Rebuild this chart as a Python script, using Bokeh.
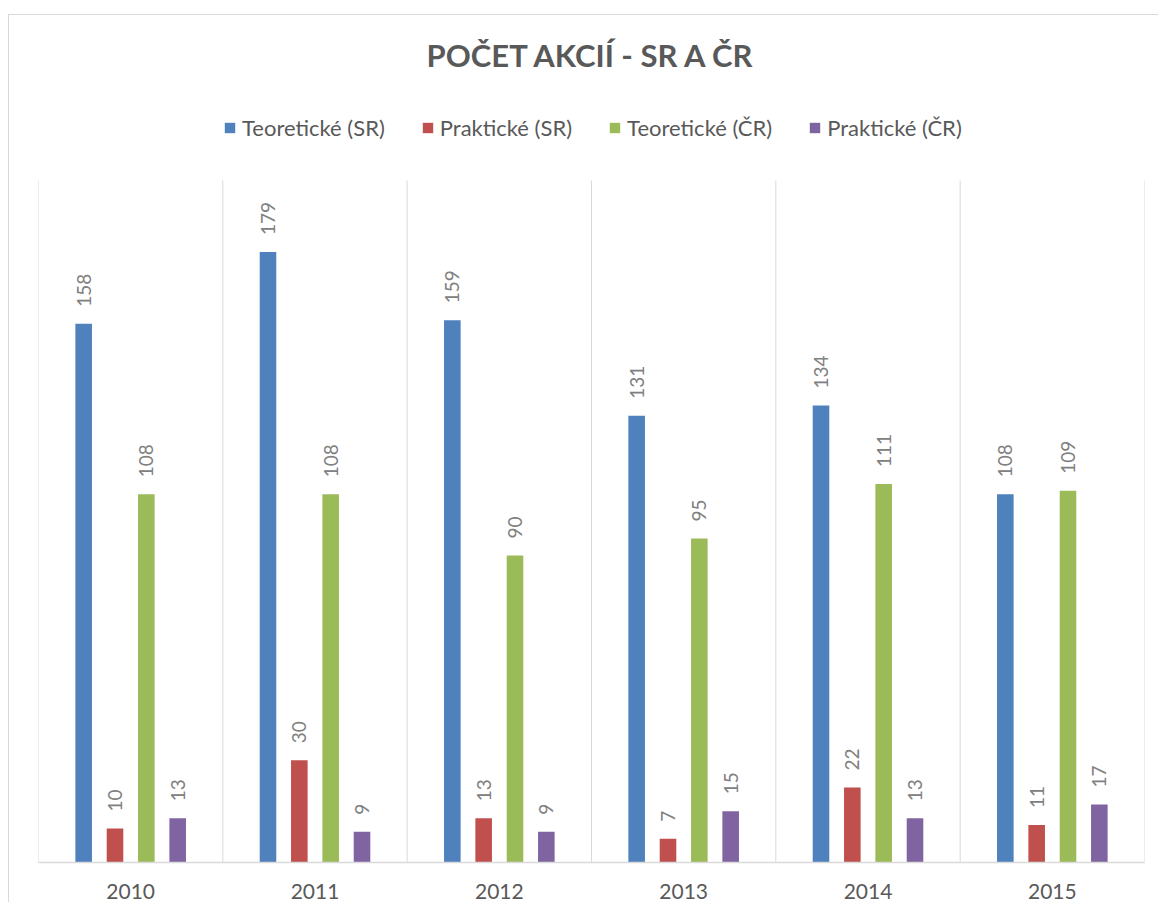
import math
from bokeh.plotting import figure
from bokeh.models import (ColumnDataSource, FactorRange, Range1d, Legend,
                          LegendItem, Label)
from bokeh.transform import dodge
from bokeh.core.properties import value
from bokeh.embed import file_html
from bokeh.resources import INLINE

# ---- data ----
years = ["2010", "2011", "2012", "2013", "2014", "2015"]
series_names = ["Teoretické (SR)", "Praktické (SR)", "Teoretické (ČR)", "Praktické (ČR)"]
teo_sr = [158, 179, 159, 131, 134, 108]
prak_sr = [10, 30, 13, 7, 22, 11]
teo_cr = [108, 108, 90, 95, 111, 109]
prak_cr = [13, 9, 9, 15, 13, 17]
title_text = "POČET AKCIÍ - SR A ČR"
y_max = 200  # value axis maximum (hidden axis)

series_values = [teo_sr, prak_sr, teo_cr, prak_cr]
colors = ["#4f81bd", "#c0504d", "#9bbb59", "#8064a2"]
offsets = [-0.255, -0.085, 0.085, 0.255]
bar_width = 0.09

FONT = "Lato"
W, H = 1150, 888
ML, MR, MT, MB = 29, 15, 0, 41
FW, FH = W - ML - MR, H - MT - MB
PLOT_PX = 682          # pixel height of the 0..y_max value area
y_top = y_max * FH / PLOT_PX   # frame extends above value area to host title & legend

p = figure(
    x_range=FactorRange(factors=years, range_padding=0),
    y_range=Range1d(0, y_top),
    width=W, height=H,
    output_backend="svg", toolbar_location=None,
    min_border_left=ML, min_border_right=MR, min_border_top=MT, min_border_bottom=MB,
    styles={"margin-top": "14px", "margin-left": "8px",
            "border-left": "1px solid #d9d9d9", "border-top": "1px solid #d9d9d9"},
)

p.outline_line_color = None
p.xgrid.grid_line_color = None
p.ygrid.grid_line_color = None
p.yaxis.visible = False

ax = p.xaxis[0]
ax.axis_line_color = "#d9d9d9"
ax.axis_line_width = 1.5
ax.major_tick_line_color = None
ax.minor_tick_line_color = None
ax.major_tick_out = 0
ax.major_tick_in = 0
ax.major_label_text_font = FONT
ax.major_label_text_font_size = "21px"
ax.major_label_text_color = "#595959"
ax.major_label_standoff = 21

# category separators (vertical gridlines between categories, over value area only)
bounds = list(range(len(years) + 1))
p.segment(x0=bounds, y0=[0] * len(bounds), x1=bounds, y1=[y_max] * len(bounds),
          line_color="#d9d9d9", line_width=1)

items = []
for name, vals, col, off in zip(series_names, series_values, colors, offsets):
    src = ColumnDataSource(dict(year=years, val=vals, lbl=[str(v) for v in vals]))
    r = p.vbar(x=dodge("year", off, range=p.x_range), top="val", width=bar_width, bottom=0,
               source=src, fill_color=col, line_color=None)
    p.text(x=dodge("year", off, range=p.x_range), y="val", text="lbl", source=src,
           angle=math.pi / 2, text_align="left", text_baseline="middle",
           y_offset=-17, text_font=value(FONT), text_font_size="19px", text_color="#808080")
    items.append(LegendItem(label=name, renderers=[r]))

# title (centred over the plot frame)
p.add_layout(Label(x=FW / 2, y=FH - 39, x_units="screen", y_units="screen",
                   text=title_text, text_align="center", text_baseline="middle",
                   text_font=FONT, text_font_size="31px", text_font_style="bold",
                   text_color="#595959"))

legend = Legend(items=items, orientation="horizontal", location=(185, FH - 126),
                glyph_width=13, glyph_height=13, label_standoff=6, spacing=36,
                padding=0, margin=0, border_line_alpha=0, background_fill_alpha=0,
                label_text_font=FONT, label_text_font_size="22px", label_text_color="#595959")
p.add_layout(legend, "center")

open("out.html", "w").write(file_html(p, INLINE))
